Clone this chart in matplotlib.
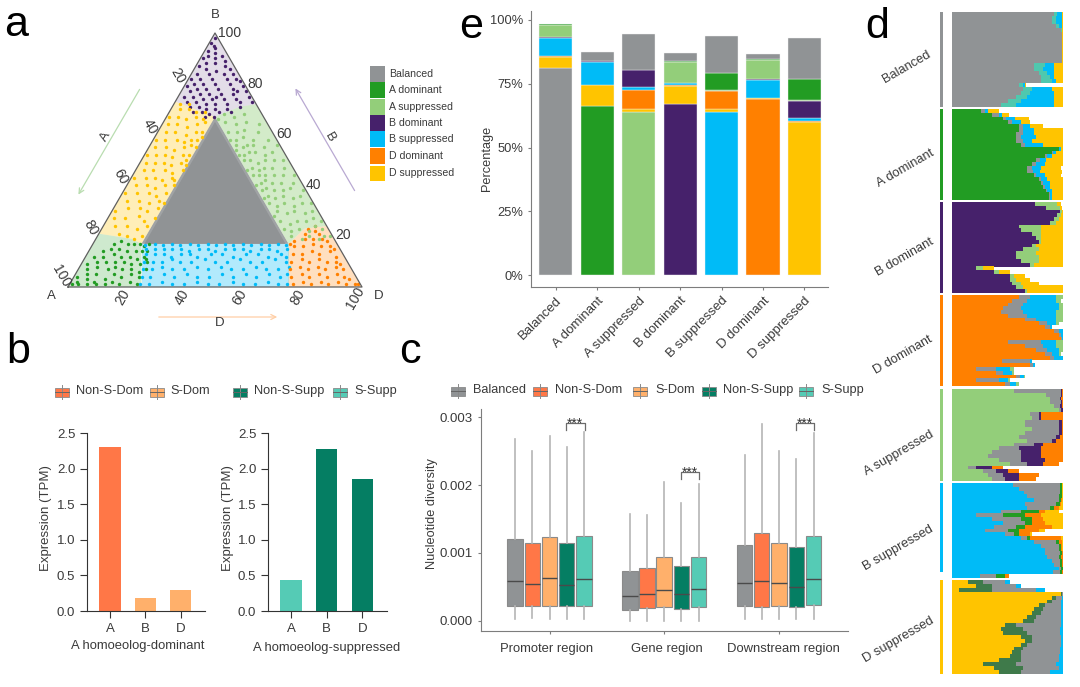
import matplotlib
matplotlib.use("Agg")
import matplotlib.pyplot as plt
from matplotlib.patches import Rectangle, Polygon

plt.rcParams['font.family'] = ['Liberation Sans', 'DejaVu Sans']

W, H = 1080, 687
TXT = '#3a3a3a'
SPINE = '#7d7d7d'

# colours of the seven classes
GREY = '#909395'
GREEN = '#229C23'
LGREEN = '#93CE7A'
PURPLE = '#46216B'
BLUE = '#00BBF7'
ORANGE = '#FF8000'
YELLOW = '#FFC400'
TEAL = '#4FC8AE'
C_NSD = '#FF7747'
C_SD = '#FFB06B'
C_NSS = '#057E63'
C_SS = '#55CBB5'

classes = ['Balanced', 'A dominant', 'A suppressed', 'B dominant', 'B suppressed', 'D dominant', 'D suppressed']
class_colors = [GREY, GREEN, LGREEN, PURPLE, BLUE, ORANGE, YELLOW]

# ---- panel a: ternary regions and points, (D %, B %) except where noted
balanced_core = [(17.5, 17), (65.5, 17), (17.5, 65)]
region_balanced = [(16.5, 17), (66.5, 17), (16.5, 67)]
region_a_dom = [(0, 0), (25, 0), (16.5, 17), (12, 19), (0, 21)]
region_b_sup = [(25, 0), (75, 0), (66.5, 17), (16.5, 17)]
region_d_dom = [(75, 0), (100, 0), (76, 24), (69, 23), (66.5, 17)]
region_d_sup = [(0, 21), (12, 19), (16.5, 17), (16.5, 67), (0, 73)]
region_a_sup = [(66.5, 17), (69, 23), (76, 24), (28, 72), (23, 71), (16.5, 67)]
region_b_dom = [(0, 73), (16.5, 67), (23, 71), (28, 72), (0, 100)]

a_dom_pts = [(1, 1), (3, 1), (6, 1), (9, 1), (12, 1), (2, 2), (5, 3), (8, 2), (11, 3), (14, 2), (17, 1), (20, 2), (23, 1), (1, 4),
             (4, 5), (7, 5), (13, 5), (16, 4), (19, 5), (22, 4), (3, 7), (6, 8), (10, 7), (12, 8), (15, 7), (18, 7), (21, 6),
             (23, 7), (2, 9), (5, 10), (8, 10), (11, 10), (14, 10), (17, 9), (20, 9), (22, 10), (3, 12), (6, 12), (9, 13),
             (12, 12), (15, 12), (18, 11), (20, 12), (21, 11), (5, 14), (7, 15), (10, 15), (13, 14), (16, 14), (18, 14),
             (20, 14), (7, 17), (9, 18), (12, 17), (14, 17), (16, 17), (18, 16), (19, 17)]
a_sup_pts = [(1, 20), (3, 20), (5, 19), (8, 20), (11, 19), (14, 20), (2, 23), (4, 24), (7, 22), (10, 23), (13, 22), (15, 23),
             (1, 26), (3, 27), (6, 26), (9, 26), (12, 25), (15, 26), (16, 28), (2, 30), (5, 29), (8, 30), (11, 29), (14, 30),
             (1, 33), (4, 33), (7, 32), (10, 33), (13, 32), (15, 33), (3, 36), (6, 35), (9, 36), (12, 35), (14, 36), (16, 35),
             (1, 38), (5, 39), (8, 38), (11, 38), (13, 39), (15, 38), (3, 41), (7, 41), (10, 41), (12, 42), (14, 41), (16, 40),
             (1, 44), (5, 44), (8, 44), (11, 44), (13, 44), (15, 44), (3, 47), (7, 47), (10, 47), (12, 46), (14, 47), (16, 46),
             (2, 50), (5, 50), (8, 50), (11, 49), (13, 50), (15, 50), (4, 53), (7, 52), (10, 53), (12, 53), (14, 52), (16, 52),
             (1, 56), (6, 55), (9, 56), (11, 56), (13, 55), (15, 56), (16, 54), (3, 58), (8, 58), (11, 59), (14, 58), (16, 58),
             (5, 61), (9, 62), (12, 61), (15, 61), (3, 64), (7, 65), (11, 64), (14, 65), (16, 66), (6, 68), (10, 67), (13, 68)]
b_dom_pts = [(1, 98), (0.5, 96), (2, 95), (1, 93), (3, 94), (4, 92), (2, 91), (5, 90), (1, 90), (7, 91), (3, 88), (6, 88), (9, 89),
             (10, 87), (1, 87), (4, 86), (8, 85), (12, 86), (2, 84), (6, 84), (11, 84), (14, 84), (1, 82), (4, 82), (8, 82),
             (13, 82), (16, 82), (3, 80), (6, 80), (10, 80), (15, 80), (18, 81), (1, 79), (5, 78), (8, 78), (12, 78), (17, 78),
             (20, 79), (3, 77), (7, 76), (10, 76), (14, 76), (18, 76), (22, 77), (2, 75), (5, 75), (9, 74), (12, 74), (16, 74),
             (20, 74), (24, 75), (4, 73), (7, 73), (11, 72), (14, 72), (18, 72), (22, 73), (26, 73), (9, 71), (12, 70), (15, 70),
             (19, 70), (23, 71), (11, 69), (14, 68), (17, 69), (21, 69), (13, 67), (16, 67), (6, 71), (8, 69), (13, 75), (19, 77)]
b_sup_pts = [(24, 1), (27, 1), (31, 2), (35, 1), (39, 1), (43, 2), (47, 1), (51, 1), (55, 2), (59, 1), (63, 1), (67, 2), (71, 1), (74, 1),
             (23, 4), (26, 4), (30, 5), (34, 4), (38, 5), (42, 4), (46, 4), (50, 5), (54, 4), (58, 5), (62, 4), (66, 5), (70, 4), (72, 5),
             (22, 7), (25, 7), (28, 8), (32, 7), (36, 7), (40, 8), (44, 7), (48, 8), (52, 7), (56, 7), (60, 8), (64, 7), (68, 7), (71, 8),
             (21, 10), (24, 10), (27, 10), (30, 11), (33, 10), (37, 10), (41, 11), (45, 10), (49, 10), (53, 11), (57, 10), (61, 10), (65, 11), (69, 10),
             (20, 13), (23, 13), (26, 13), (29, 12), (32, 13), (35, 13), (38, 12), (42, 13), (46, 13), (50, 12), (54, 13), (58, 13), (62, 12), (66, 13), (68, 12),
             (19, 15), (22, 15), (25, 15), (28, 15), (31, 15), (34, 14), (37, 15), (40, 15), (43, 14), (46, 15), (49, 15), (52, 15), (55, 14), (58, 15), (61, 15), (64, 14), (67, 15),
             (18, 16.5), (21, 17), (24, 16.5), (27, 17), (30, 16.5), (33, 17), (36, 16.5), (39, 17), (42, 16.5), (45, 17), (48, 16.5), (51, 17), (54, 16.5), (57, 17), (60, 16.5), (63, 17), (66, 16.5)]
d_dom_pts = [(76, 1), (79, 2), (82, 1), (85, 2), (88, 1), (91, 2), (94, 1), (97, 1), (98, 1), (74, 4), (77, 5), (80, 4), (83, 5), (86, 4),
             (89, 5), (92, 4), (94, 3), (72, 7), (75, 8), (78, 7), (81, 8), (84, 7), (87, 8), (90, 7), (71, 10), (74, 11), (77, 10),
             (80, 11), (83, 10), (86, 10), (88, 9), (70, 13), (73, 13), (76, 14), (79, 13), (82, 14), (85, 12), (69, 16), (72, 16),
             (75, 17), (78, 16), (81, 16), (83, 15), (68, 18), (71, 19), (74, 19), (77, 19), (79, 18), (70, 21), (73, 22), (75, 21), (72, 24), (70, 23), (67, 17)]
d_sup_pts = [(13, 19), (10, 20), (7, 21), (15, 20), (4, 24), (8, 24), (12, 23), (15, 24), (2, 27), (6, 27), (10, 28), (13, 26), (16, 27),
             (1, 30), (5, 31), (9, 31), (12, 30), (15, 31), (3, 34), (7, 34), (11, 33), (14, 34), (16, 33), (1, 37), (5, 37), (9, 37),
             (12, 36), (15, 37), (3, 40), (7, 40), (10, 39), (13, 40), (16, 40), (1, 43), (5, 43), (8, 43), (11, 42), (14, 43), (15, 42),
             (3, 46), (6, 46), (10, 46), (13, 45), (16, 46), (2, 49), (5, 49), (8, 49), (11, 48), (14, 49), (15, 50), (16, 48), (1, 52), (4, 52),
             (7, 52), (10, 51), (13, 52), (15, 52), (2, 55), (6, 55), (9, 54), (12, 55), (14, 56), (16, 55), (1, 58), (4, 58), (8, 58),
             (11, 57), (13, 58), (15, 58), (16, 59), (3, 61), (6, 61), (10, 60), (13, 61), (15, 61), (2, 64), (5, 64), (9, 63),
             (12, 64), (14, 65), (1, 67), (4, 67), (7, 66), (10, 67), (13, 66), (3, 70), (6, 70), (9, 69), (12, 69), (2, 72), (5, 72)]

# ---- panel b
b_labels = ['A', 'B', 'D']
dominant_tpm = [2.3, 0.18, 0.3]
suppressed_tpm = [0.44, 2.27, 1.85]

# ---- panel c: whisker low, q1, median, q3, whisker high
regions = ['Promoter region', 'Gene region', 'Downstream region']
box_names = ['Balanced', 'Non-S-Dom', 'S-Dom', 'Non-S-Supp', 'S-Supp']
promoter_boxes = [[.00002, .00022, .00059, .00120, .00268], [.00004, .00022, .00054, .00115, .00251], [.00003, .00022, .00063, .00124, .00273],
                  [.00003, .00021, .00052, .00115, .00256], [.00002, .00022, .00062, .00125, .00278]]
gene_boxes = [[.0, .00016, .00037, .00073, .00158], [.0, .00018, .00040, .00077, .00156], [.0, .00020, .00045, .00094, .00205],
              [.0, .00017, .00040, .00080, .00173], [.0, .00020, .00047, .00094, .00202]]
down_boxes = [[.00002, .00022, .00055, .00111, .00244], [.00003, .00020, .00059, .00129, .00290], [.00003, .00021, .00055, .00114, .00250],
              [.00003, .00020, .00050, .00108, .00239], [.00003, .00023, .00062, .00125, .00277]]
bracket_tops = [.00291, .00219, .00291]

# ---- panel e: share of each class inside each bar, order of classes above
share_balanced = [81.3, 3.4, 14.2, 3.0, 14.5, 2.0, 16.0]
share_a_dom = [0.6, 66.4, 0, 0.4, 6.6, 0.3, 8.2]
share_a_sup = [4.4, 0, 63.8, 8.5, 0.4, 7.7, 0.4]
share_b_dom = [0.7, 0.4, 6.4, 66.9, 0, 0.4, 6.6]
share_b_sup = [6.8, 9.1, 1.2, 0.6, 63.8, 6.9, 1.4]
share_d_dom = [0.5, 0, 7.6, 0.5, 7.2, 69.2, 0.2]
share_d_sup = [4.2, 8.0, 1.3, 7.2, 1.2, 0.2, 60.0]
e_ticks = [0, 25, 50, 75, 100]

# ---- panel d: gene rows from top to bottom, widths in % of the panel
d_balanced = [[92, 3, 4, 1], [90, 4, 5, 1], [90, 4, 5, 1], [94, 2, 3, 1], [98, 1, 0, 1], [99, 0, 0, 1], [99, 0, 0, 1], [99, 0, 0, 1],
              [99, 0, 0, 1], [99, 0, 0, 1], [99, 0, 0, 1], [99, 0, 0, 1], [99, 0, 0, 1], [74, 10, 8, 8], [74, 8, 10, 8], [78, 8, 6, 8],
              [80, 8, 4, 8], [80, 10, 4, 6], [60, 4, 2, 1], [64, 8, 18, 10], [62, 8, 22, 8], [58, 10, 24, 8], [50, 12, 30, 8], [44, 14, 34, 8]]
d_a_dom = [[26, 4, 2, 10], [36, 6, 3, 6], [46, 3, 8, 12], [50, 4, 8, 8], [60, 4, 6, 12], [60, 4, 10, 26], [58, 6, 10, 26], [58, 4, 14, 24],
           [58, 6, 8, 28], [62, 4, 16, 18], [96, 0, 2, 2], [90, 1, 3, 6], [84, 2, 4, 10], [76, 3, 6, 15], [72, 4, 8, 16], [68, 4, 8, 18],
           [68, 5, 6, 20], [74, 2, 8, 14], [78, 2, 6, 14], [80, 2, 6, 12], [82, 2, 4, 12], [85, 1, 4, 10], [87, 1, 2, 10], [87, 1, 2, 10]]
d_b_dom = [[75, 20, 3], [85, 12, 2], [97, 2, 1], [95, 3, 2], [92, 4, 4], [88, 6, 6], [60, 20, 20], [62, 18, 20], [72, 8, 20], [76, 4, 20],
           [78, 2, 20], [72, 4, 24], [64, 14, 22], [58, 18, 24], [58, 20, 22], [62, 16, 22], [70, 4, 26], [22, 6, 10], [38, 4, 10],
           [52, 4, 10], [52, 6, 12], [54, 8, 16], [58, 6, 36], [66, 2, 32]]
d_d_dom = [[60, 10, 24, 6], [54, 14, 26, 4], [50, 14, 32, 4], [46, 16, 34, 4], [44, 20, 30, 6], [50, 18, 26, 6], [66, 10, 18, 6], [78, 8, 8, 2],
           [84, 4, 2, 0], [92, 4, 4, 0], [96, 2, 2, 0], [98, 1, 1, 0], [50, 30, 14, 6], [66, 16, 12, 6], [76, 10, 10, 4], [84, 6, 6, 2],
           [88, 4, 8, 0], [45, 25, 2, 0], [70, 3, 2, 0], [22, 18, 12, 4], [40, 6, 8, 2], [58, 3, 4, 1], [22, 20, 8, 2], [48, 4, 6, 2]]
d_a_sup = [[56, 42, 1, 1], [85, 13, 1, 1], [88, 9, 1, 2], [88, 10, 1, 1], [92, 5, 2, 1], [96, 2, 2, 0], [70, 8, 2, 20], [72, 6, 2, 20],
           [66, 30, 3, 1], [66, 30, 3, 1], [72, 24, 3, 1], [66, 30, 3, 1], [60, 34, 3, 3], [68, 22, 4, 6], [56, 18, 8, 18], [42, 18, 20, 20],
           [36, 26, 18, 20], [32, 30, 18, 20], [42, 20, 22, 16], [52, 16, 14, 14], [14, 8, 14, 10], [28, 12, 10, 10], [32, 14, 14, 18], [36, 12, 12, 16]]
d_b_sup = [[55, 42, 2, 0, 1], [60, 37, 2, 0, 1], [65, 32, 2, 0, 1], [68, 28, 3, 0, 1], [74, 22, 2, 1, 1], [66, 28, 3, 1, 2], [68, 20, 4, 4, 4],
           [44, 18, 16, 6, 12], [22, 24, 20, 14, 20], [36, 26, 10, 10, 18], [46, 20, 6, 12, 16], [38, 20, 8, 24, 10], [30, 20, 10, 18, 6],
           [48, 8, 4, 10, 2], [62, 6, 2, 28, 2], [74, 20, 2, 3, 1], [80, 16, 2, 1, 1], [84, 12, 2, 1, 1], [84, 13, 2, 1, 0], [86, 10, 2, 2, 0],
           [90, 7, 2, 1, 0], [92, 5, 2, 1, 0], [96, 2, 2, 0, 0], [91, 6, 2, 1, 0], [25, 15, 8, 3, 0]]
d_d_sup = [[14, 14, 20, 4], [22, 14, 22, 4], [6, 30, 40, 8], [98, 1, 1, 0], [90, 4, 5, 1], [86, 4, 8, 2], [78, 6, 14, 2], [74, 8, 16, 2],
           [72, 8, 18, 2], [68, 8, 22, 2], [64, 10, 24, 2], [48, 10, 40, 2], [44, 20, 33, 3], [46, 22, 29, 3], [62, 10, 26, 2], [66, 6, 26, 2],
           [62, 6, 30, 2], [56, 8, 33, 3], [54, 8, 35, 3], [52, 10, 34, 4], [42, 20, 34, 4], [28, 30, 36, 6], [38, 26, 32, 4], [42, 20, 26, 12]]


def px_axes(left, top, right, bottom):
    return fig.add_axes([left / W, 1 - bottom / H, (right - left) / W, (bottom - top) / H])


def ptext(x, y, s, **kw):
    kw.setdefault('color', TXT)
    kw.setdefault('ha', 'center')
    kw.setdefault('va', 'center')
    fig.text(x / W, 1 - y / H, s, **kw)


def prect(x0, y0, x1, y1, color, **kw):
    fig.add_artist(Rectangle((x0 / W, 1 - y1 / H), (x1 - x0) / W, (y1 - y0) / H, transform=fig.transFigure,
                             facecolor=color, edgecolor='none', **kw))


def pline(xs, ys, color, lw=0.8):
    fig.add_artist(plt.Line2D([x / W for x in xs], [1 - y / H for y in ys], color=color, lw=lw))


def box_key(x, y, color):
    pline([x + 7, x + 7], [y - 7, y + 7], '#8a8a8a', 0.7)
    fig.add_artist(Rectangle((x / W, 1 - (y + 4.5) / H), 14 / W, 9 / H, transform=fig.transFigure,
                             facecolor=color, edgecolor='#8a8a8a', lw=0.6))
    pline([x, x + 14], [y, y], '#666666', 0.7)


def style_axes(ax):
    ax.spines['top'].set_visible(False)
    ax.spines['right'].set_visible(False)
    ax.spines['left'].set_color(SPINE)
    ax.spines['bottom'].set_color(SPINE)
    ax.tick_params(colors=TXT, color=SPINE)


fig = plt.figure(figsize=(W / 100, H / 100), dpi=100)

# panel letters
for letter, x, y in [('a', 4, 36), ('b', 6, 363), ('c', 399, 363), ('d', 865, 38), ('e', 459, 38)]:
    ptext(x, y, letter, fontsize=31, ha='left', va='baseline', color='black')

# ---------- a: ternary
ax = px_axes(68, 33, 362, 287)
ax.set_xlim(0, 100)
ax.set_ylim(0, 100)
ax.axis('off')


def from_db(pts):
    return [d + b / 2 for d, b in pts], [b for d, b in pts]


# light wash of each region, the points are only a thinned sample of the dense cloud
for reg, col, alpha in [(region_balanced, GREY, 0.85), (region_a_dom, GREEN, 0.22), (region_b_sup, BLUE, 0.3), (region_d_dom, ORANGE, 0.25),
                        (region_d_sup, YELLOW, 0.28), (region_a_sup, LGREEN, 0.4), (region_b_dom, PURPLE, 0.15)]:
    ax.add_patch(Polygon([(d + b / 2, b) for d, b in reg], facecolor=col, edgecolor='none', alpha=alpha))
ax.add_patch(Polygon([(d + b / 2, b) for d, b in balanced_core], facecolor=GREY, edgecolor='none'))
for pts, col in [(a_dom_pts, GREEN), (b_dom_pts, PURPLE), (b_sup_pts, BLUE), (d_dom_pts, ORANGE), (d_sup_pts, YELLOW)]:
    xs, ys = from_db(pts)
    ax.scatter(xs, ys, s=6, color=col, linewidths=0, clip_on=False)
# the A suppressed list holds (A %, B %)
ax.scatter([100 - a - b / 2 for a, b in a_sup_pts], [b for a, b in a_sup_pts], s=6, color=LGREEN, linewidths=0)
ax.plot([0, 100, 50, 0], [0, 0, 100, 0], color='#5f5f5f', lw=0.9, clip_on=False)

for s, x, y in [('20', 123, 297), ('40', 182, 297), ('60', 240, 297), ('80', 298, 297), ('100', 355, 298)]:
    ptext(x, y, s, fontsize=10, rotation=60)
for s, x, y in [('20', 178, 76), ('40', 150, 127), ('60', 121, 177), ('80', 91, 228), ('100', 61, 276)]:
    ptext(x, y, s, fontsize=10, rotation=-60)
for s, x, y in [('20', 343, 235), ('40', 313, 185), ('60', 284, 134), ('80', 255, 84), ('100', 230, 33)]:
    ptext(x, y, s, fontsize=10)
ptext(215, 15, 'B', fontsize=9.5)
ptext(51, 296, 'A', fontsize=9.5)
ptext(379, 296, 'D', fontsize=9.5)
ptext(106, 137, 'A', fontsize=9.5, rotation=60)
ptext(330, 137, 'B', fontsize=9.5, rotation=-60)
ptext(220, 323, 'D', fontsize=9.5)

over = fig.add_axes([0, 0, 1, 1], facecolor='none')
over.set_xlim(0, W)
over.set_ylim(H, 0)
over.axis('off')
for p0, p1, col in [((141, 87), (77, 197), '#B9DDB0'), ((356, 193), (294, 86), '#B9A9D2'), ((156, 317), (280, 317), '#FFCFA6')]:
    over.annotate('', xy=p1, xytext=p0, arrowprops=dict(arrowstyle='->', color=col, lw=0.9, mutation_scale=9))

key_y = [74, 90, 107, 123, 139, 156, 173]
for name, col, y in zip(classes, class_colors, key_y):
    prect(370, y - 7.5, 385, y + 7.5, col)
    ptext(389, y, name, fontsize=7.6, ha='left')

# ---------- b: two bar charts
for box, vals, cols, label, lab_x, lab_y, ylab_x in [((87, 433, 205, 611), dominant_tpm, [C_NSD, C_SD, C_SD], 'A homoeolog-dominant', 138, 646, 46),
                                                     ((268, 433, 387, 611), suppressed_tpm, [C_SS, C_NSS, C_NSS], 'A homoeolog-suppressed', 327, 648, 228)]:
    ax = px_axes(*box)
    ax.bar(range(3), vals, width=0.6, color=cols)
    ax.set_xlim(-0.65, 2.69)
    ax.set_ylim(0, 2.5)
    ax.set_xticks(range(3), b_labels, fontsize=9.5)
    ax.set_yticks([0, 0.5, 1, 1.5, 2, 2.5], ['0.0', '0.5', '1.0', '1.5', '2.0', '2.5'], fontsize=9.5)
    style_axes(ax)
    ax.spines['left'].set_color('#333333')
    ax.spines['bottom'].set_color('#333333')
    ax.tick_params(color='#333333', length=5)
    ptext(ylab_x, 518, 'Expression (TPM)', fontsize=9.5, rotation=90)
    ptext(lab_x, lab_y, label, fontsize=9.4)

for x, xt, name, col in [(55, 76, 'Non-S-Dom', C_NSD), (150, 170, 'S-Dom', C_SD), (233, 254, 'Non-S-Supp', C_NSS), (333, 354, 'S-Supp', C_SS)]:
    box_key(x, 392, col)
    ptext(xt, 391, name, fontsize=9.2, ha='left')

# ---------- c: box plots
ax = px_axes(481, 409, 848, 631)
ax.set_xlim(481, 848)
ax.set_ylim((620.7 - 631) / 67.8 * 0.001, (620.7 - 409) / 67.8 * 0.001)
box_cols = [GREY, C_NSD, C_SD, C_NSS, C_SS]
centres = [[515, 532.3, 549.7, 566.7, 584], [630, 647, 664, 681.3, 698.7], [744.7, 761.7, 779, 796.3, 813.7]]
for group, xs in zip([promoter_boxes, gene_boxes, down_boxes], centres):
    stats = [dict(whislo=g[0], q1=g[1], med=g[2], q3=g[3], whishi=g[4], fliers=[]) for g in group]
    parts = ax.bxp(stats, positions=xs, widths=15.5, patch_artist=True, showcaps=False, showfliers=False, manage_ticks=False,
                   medianprops=dict(color='#4a4a4a', lw=1),
                   whiskerprops=dict(color='#b5b5b5', lw=1.2),
                   boxprops=dict(edgecolor='#8a8a8a', lw=0.8))
    for patch, col in zip(parts['boxes'], box_cols):
        patch.set_facecolor(col)
for top, xs in zip(bracket_tops, centres):
    x0, x1 = xs[3] - 0.7, xs[4] + 0.7
    ax.plot([x0, x0, x1, x1], [top - 0.0001, top, top, top - 0.0001], color='#6b6b6b', lw=0.9)
    ax.text((x0 + x1) / 2, top - 0.00001, '***', ha='center', va='center', fontsize=10, color='#333333')
ax.set_xticks([c[2] for c in centres], ['', '', ''])
ax.set_yticks([0, .001, .002, .003], ['0.000', '0.001', '0.002', '0.003'], fontsize=9.5)
style_axes(ax)
ax.tick_params(length=2.5)
for name, x in zip(regions, [547, 667, 783]):
    ptext(x, 649, name, fontsize=9.4)
ptext(432, 514, 'Nucleotide diversity', fontsize=9.2, rotation=90)

for x, xt, name, col in zip([451, 533, 633, 702, 799], [473, 555, 655, 723, 821], box_names, box_cols):
    box_key(x, 391, col)
    ptext(xt, 390, name, fontsize=9.2, ha='left')

# ---------- e: stacked bars, each bar's own class at the bottom
ax = px_axes(531, 11, 828, 287)
ax.set_xlim(-0.6, 6.57)
ax.set_ylim((275 - 287) / 2.55, (275 - 11) / 2.55)
stack_order = [6, 5, 4, 3, 2, 1, 0]
shares = [share_balanced, share_a_dom, share_a_sup, share_b_dom, share_b_sup, share_d_dom, share_d_sup]
for i in range(7):
    bottom = 0
    for j in [i] + [k for k in stack_order if k != i]:
        v = shares[j][i]
        if v > 0:
            ax.bar(i, v, bottom=bottom, width=0.8, color=class_colors[j], edgecolor='#f2f2f2', lw=0.3)
        bottom += v
ax.set_xticks(range(7), classes, rotation=45, ha='right', rotation_mode='anchor', fontsize=9.5)
ax.set_yticks(e_ticks, [f'{t}%' for t in e_ticks], fontsize=9.3)
style_axes(ax)
ax.tick_params(length=2)
ptext(487, 158, 'Percentage', fontsize=9.2, rotation=90)

# ---------- d: per-gene stacked rows
d_groups = [
    (d_balanced, [GREY, TEAL, BLUE, YELLOW], 12, 107, 107, 'Balanced', 907, 67, GREY),
    (d_a_dom, [GREEN, GREY, BLUE, YELLOW], 109, 200, 200, 'A dominant', 905, 168, GREEN),
    (d_b_dom, [PURPLE, LGREEN, YELLOW], 202, 293, 293, 'B dominant', 905, 257, PURPLE),
    (d_d_dom, [ORANGE, GREY, BLUE, LGREEN], 295, 386, 386, 'D dominant', 903, 355, ORANGE),
    (d_a_sup, [LGREEN, GREY, PURPLE, ORANGE], 389, 481, 481, 'A suppressed', 899, 453, LGREEN),
    (d_b_sup, [BLUE, GREY, GREEN, ORANGE, YELLOW], 483, 578, 572, 'B suppressed', 898, 548, BLUE),
    (d_d_sup, [YELLOW, '#3f7a4a', GREY, BLUE], 580, 674, 674, 'D suppressed', 898, 640, YELLOW),
]
for rows, cols, top, bot, strip_bot, name, lx, ly, strip in d_groups:
    ax = px_axes(952, top, 1063, bot)
    ax.set_xlim(0, 100)
    ax.set_ylim(len(rows) - 0.5, -0.5)
    ax.axis('off')
    for r, row in enumerate(rows):
        left = 0
        for w, c in zip(row, cols):
            if w > 0:
                ax.barh(r, w, left=left, height=1.03, color=c, linewidth=0)
            left += w
    prect(939.5, top, 942.5, strip_bot, strip)
    ptext(lx, ly, name, fontsize=9.3, rotation=30)

fig.savefig('out.png', dpi=100)
